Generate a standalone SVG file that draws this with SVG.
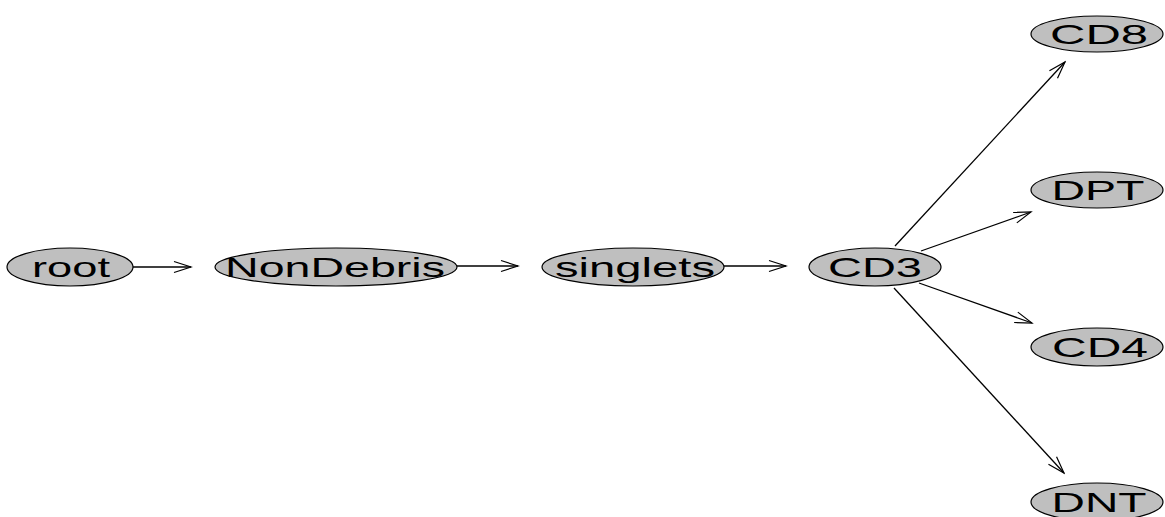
<svg xmlns="http://www.w3.org/2000/svg" width="1165" height="517" viewBox="0 0 1165 517">
<style>
.node ellipse{fill:#bfbfbf;stroke:#000;stroke-width:1.2}
.node text{font-family:"Liberation Sans",Arial,sans-serif;font-size:28px;fill:#000;text-anchor:middle}
.edge{stroke:#000;stroke-width:1.3;fill:none;marker-end:url(#arr)}
</style>
<defs>
<marker id="arr" viewBox="-19 -8 21 16" markerWidth="21" markerHeight="16" refX="0" refY="0" orient="auto" markerUnits="userSpaceOnUse">
<path d="M-17,-5.5 L0,0 L-17,5.5" fill="none" stroke="#000" stroke-width="1.2"/>
</marker>
</defs>
<rect width="1165" height="517" fill="#fff"/>
<g id="connectors">
<line class="edge" x1="133" y1="267" x2="191" y2="267"/>
<line class="edge" x1="457" y1="266" x2="518" y2="266"/>
<line class="edge" x1="724" y1="266" x2="786" y2="266"/>
<line class="edge" x1="895" y1="246" x2="1065" y2="62"/>
<line class="edge" x1="921" y1="251" x2="1031" y2="212"/>
<line class="edge" x1="919" y1="283" x2="1032" y2="323"/>
<line class="edge" x1="894" y1="288" x2="1064" y2="473"/>
</g>
<g id="root" class="node"><ellipse cx="70" cy="267" rx="63" ry="19"/><text x="71" y="277" textLength="78" lengthAdjust="spacingAndGlyphs">root</text></g>
<g id="NonDebris" class="node"><ellipse cx="336" cy="267" rx="121" ry="19"/><text x="335" y="277" textLength="220" lengthAdjust="spacingAndGlyphs">NonDebris</text></g>
<g id="singlets" class="node"><ellipse cx="633" cy="267" rx="91" ry="19"/><text x="635" y="277" textLength="160" lengthAdjust="spacingAndGlyphs">singlets</text></g>
<g id="CD3" class="node"><ellipse cx="875" cy="267" rx="66" ry="19"/><text x="875" y="277" textLength="94" lengthAdjust="spacingAndGlyphs">CD3</text></g>
<g id="CD8" class="node"><ellipse cx="1097" cy="34" rx="66" ry="18"/><text x="1099" y="44" textLength="98" lengthAdjust="spacingAndGlyphs">CD8</text></g>
<g id="DPT" class="node"><ellipse cx="1097" cy="190" rx="66" ry="18"/><text x="1098" y="200" textLength="93" lengthAdjust="spacingAndGlyphs">DPT</text></g>
<g id="CD4" class="node"><ellipse cx="1097" cy="347" rx="66" ry="19"/><text x="1100" y="357" textLength="96" lengthAdjust="spacingAndGlyphs">CD4</text></g>
<g id="DNT" class="node"><ellipse cx="1097" cy="502" rx="66" ry="19"/><text x="1099" y="512" textLength="95" lengthAdjust="spacingAndGlyphs">DNT</text></g>
</svg>
